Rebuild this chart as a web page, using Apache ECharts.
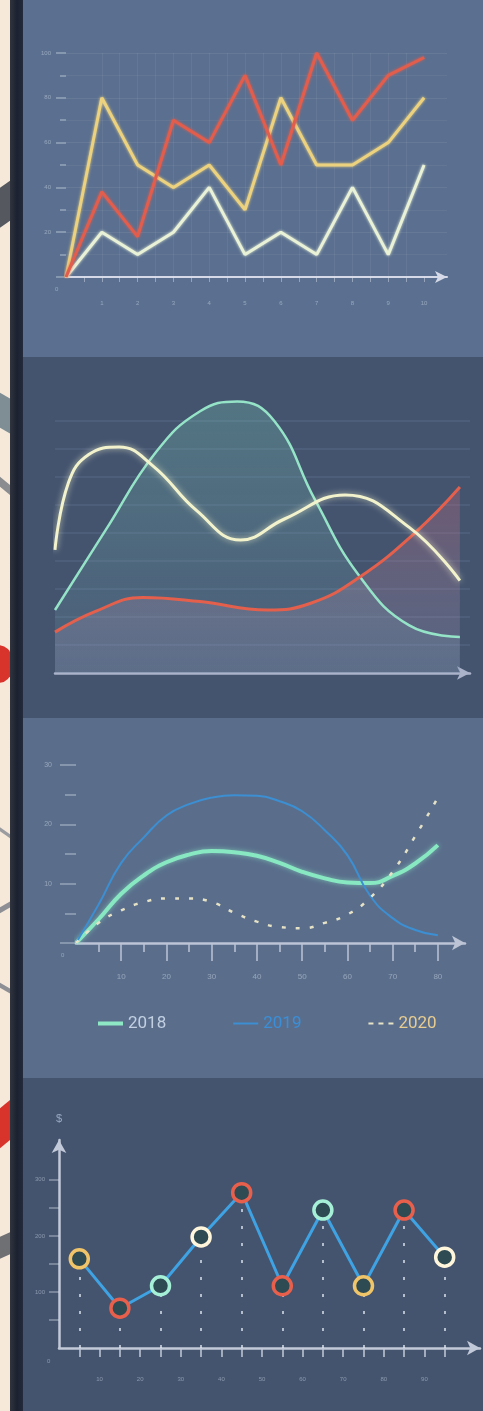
<!DOCTYPE html>
<html>
<head>
<meta charset="utf-8">
<script src="https://cdn.jsdelivr.net/npm/echarts@6/dist/echarts.min.js"></script>
<style>
body{margin:0;width:483px;height:1411px;overflow:hidden;background:#485a78;position:relative}
#strip{position:absolute;left:0;top:0;width:10px;height:1411px;background:#f6e9da;overflow:hidden}
#strip div{position:absolute;left:-4px;width:16px}
#bar{position:absolute;left:10px;top:0;width:13px;height:1411px;background:linear-gradient(90deg,#30343e,#1b2130 55%,#232b3c)}
.panel{position:absolute;left:23px;width:460px}
</style>
</head>
<body>
<div id="strip">
  <div style="top:185px;height:40px;background:#55585e;transform:skewY(-35deg)"></div>
  <div style="top:395px;height:35px;background:#7e8e94;transform:skewY(30deg)"></div>
  <div style="top:480px;height:10px;background:#8a8c90;transform:skewY(40deg)"></div>
  <div style="top:645px;height:38px;background:#d8342c;border-radius:0 14px 14px 0"></div>
  <div style="top:830px;height:4px;background:#9a9ca0;transform:skewY(35deg)"></div>
  <div style="top:905px;height:6px;background:#8d8f94;transform:skewY(-30deg)"></div>
  <div style="top:985px;height:5px;background:#8d8f94;transform:skewY(30deg)"></div>
  <div style="top:1105px;height:40px;background:#d8342c;transform:skewY(-40deg)"></div>
  <div style="top:1235px;height:22px;background:#6e7074;transform:skewY(-25deg)"></div>
</div>
<div id="bar"></div>
<div id="p1" class="panel" style="top:0;height:357px;background:#5b7090"></div>
<div id="p2" class="panel" style="top:357px;height:361px;background:#44546f"></div>
<div id="p3" class="panel" style="top:718px;height:360px;background:#5a6e8c"></div>
<div id="p4" class="panel" style="top:1078px;height:333px;background:#44546f"></div>
<script>
// panel 1 - zigzag lines
var p1_x = [0, 1, 2, 3, 4, 5, 6, 7, 8, 9, 10];
var p1_red = [0, 38, 18, 70, 60, 90, 50, 100, 70, 90, 98];
var p1_yellow = [0, 80, 50, 40, 50, 30, 80, 50, 50, 60, 80];
var p1_white = [0, 20, 10, 20, 40, 10, 20, 10, 40, 10, 50];
var p1_xlabels = [1, 2, 3, 4, 5, 6, 7, 8, 9, 10];
var p1_xticks = [0.5, 1, 1.5, 2, 2.5, 3, 3.5, 4, 4.5, 5, 5.5, 6, 6.5, 7, 7.5, 8, 8.5, 9, 9.5, 10];

// panel 2 - smooth areas (x positions differ per curve)
var p2_green_x = [0, 1.5, 3, 4.3, 5.4, 6.5, 7.7, 9, 10.5, 12];
var p2_green = [22.5, 51, 79, 93.5, 97, 90, 62, 35, 17, 12.9];
var p2_cream_x = [0, 0.4, 1.0, 1.9, 2.9, 4.2, 5.5, 6.8, 8.6, 10.5, 12];
var p2_cream = [44, 68, 78, 80.7, 74, 58, 47.5, 55, 63.6, 52, 33];
var p2_red_x = [0, 1.2, 2.6, 4.3, 6.3, 7.6, 9, 10.7, 12];
var p2_red = [14.6, 22, 27, 25.5, 22.5, 25, 34, 50.4, 66.4];

// panel 3 - 2018 / 2019 / 2020
var p3_x = [0, 5, 10, 15, 20, 25, 30, 35, 40, 45, 50, 55, 60, 65, 70, 75, 80];
var p3_2018 = [0, 4, 8.3, 11.4, 13.6, 14.9, 15.5, 15.3, 14.7, 13.5, 12, 10.9, 10.2, 10.1, 11.3, 13.4, 16.5];
var p3_2019 = [0, 6.5, 13.5, 17.8, 21.5, 23.4, 24.5, 24.9, 24.8, 23.9, 22.2, 19, 14.8, 8, 4.2, 2.2, 1.3];
var p3_2020 = [0, 3.4, 5.5, 6.9, 7.5, 7.5, 6.9, 5.1, 3.6, 2.7, 2.5, 3.4, 4.8, 7.6, 12, 18, 24.5];
var p3_years = ['2018', '2019', '2020'];
var p3_xlabels = [10, 20, 30, 40, 50, 60, 70, 80];
var p3_minor = [5, 15, 25, 35, 45, 55, 65, 75];

// panel 4 - dollar points
var p4_x = [5, 15, 25, 35, 45, 55, 65, 75, 85, 95];
var p4_val = [159, 71, 111, 198, 277, 111, 246, 111, 246, 162];
var p4_xlabels = [10, 20, 30, 40, 50, 60, 70, 80, 90];
var p4_xticks = [5, 10, 15, 20, 25, 30, 35, 40, 45, 50, 55, 60, 65, 70, 75, 80, 85, 90, 95];
var p4_yticks = [50, 100, 150, 200, 250, 300];
var p4_ylabels = [100, 200, 300];

var faint = 'rgba(220,228,240,0.45)';

function pairs(xs, ys) {
    var out = [];
    for (var i = 0; i < xs.length; i++) out.push([xs[i], ys[i]]);
    return out;
}

function zeroText(x, y) {
    return {type: 'text', left: x, top: y, style: {text: '0', fill: faint, font: '6px sans-serif'}};
}

// ---------- panel 1
var c1 = echarts.init(document.getElementById('p1'));
var line1 = function (name, data, color) {
    return {
        name: name, type: 'line', data: data, symbol: 'none',
        lineStyle: {color: color, width: 3, shadowColor: color, shadowBlur: 3}
    };
};
c1.setOption({
    animation: false,
    grid: {left: 43, right: 36, top: 53, bottom: 80},
    graphic: [zeroText(32, 286)],
    xAxis: {
        type: 'value', min: 0, max: 10.64, interval: 0.5,
        axisLine: {symbol: ['none', 'arrow'], symbolSize: [9, 12], lineStyle: {color: '#d6dae8', width: 2}},
        axisTick: {customValues: p1_xticks, length: 5, lineStyle: {color: faint}},
        axisLabel: {customValues: p1_xlabels, color: faint, fontSize: 6, margin: 23},
        splitLine: {show: true, showMinLine: false, showMaxLine: false, lineStyle: {color: 'rgba(255,255,255,0.06)'}}
    },
    yAxis: {
        type: 'value', min: 0, max: 100, interval: 20,
        axisLine: {show: false},
        axisTick: {length: 10, lineStyle: {color: faint, width: 1.5}},
        minorTick: {show: true, splitNumber: 2, length: 6, lineStyle: {color: faint, width: 1.5}},
        axisLabel: {color: faint, fontSize: 6, margin: 15, formatter: function (v) { return v === 0 ? '' : v; }},
        splitLine: {lineStyle: {color: 'rgba(255,255,255,0.07)'}},
        minorSplitLine: {show: true, lineStyle: {color: 'rgba(255,255,255,0.05)'}}
    },
    series: [
        line1('white', pairs(p1_x, p1_white), '#e9f1d6'),
        line1('yellow', pairs(p1_x, p1_yellow), '#ecd27e'),
        line1('red', pairs(p1_x, p1_red), '#e35d4c')
    ]
});

// ---------- panel 2
var c2 = echarts.init(document.getElementById('p2'));
c2.setOption({
    animation: false,
    grid: {left: 32, right: 13, top: 36, bottom: 45},
    xAxis: {
        type: 'value', min: 0, max: 12.3,
        axisLine: {symbol: ['none', 'arrow'], symbolSize: [10, 13], lineStyle: {color: '#aab3ca', width: 2.5}},
        axisTick: {show: false}, axisLabel: {show: false}, splitLine: {show: false}
    },
    yAxis: {
        type: 'value', min: 0, max: 100, interval: 10,
        axisLine: {show: false}, axisTick: {show: false}, axisLabel: {show: false},
        splitLine: {show: true, showMinLine: false, showMaxLine: false, lineStyle: {color: 'rgba(130,150,185,0.22)', width: 1.5}}
    },
    series: [
        {
            type: 'line', smooth: 0.45, symbol: 'none', data: pairs(p2_green_x, p2_green),
            lineStyle: {color: '#95e4c8', width: 2.5},
            areaStyle: {color: new echarts.graphic.LinearGradient(0, 0, 0, 1, [
                {offset: 0, color: 'rgba(120,200,180,0.42)'},
                {offset: 1, color: 'rgba(110,150,170,0.25)'}
            ])}
        },
        {
            type: 'line', smooth: 0.45, symbol: 'none', data: pairs(p2_red_x, p2_red),
            lineStyle: {color: '#e4604c', width: 3},
            areaStyle: {color: new echarts.graphic.LinearGradient(0, 0, 0, 1, [
                {offset: 0, color: 'rgba(190,100,120,0.5)'},
                {offset: 1, color: 'rgba(160,165,200,0.3)'}
            ])}
        },
        {
            type: 'line', smooth: 0.45, symbol: 'none', data: pairs(p2_cream_x, p2_cream),
            lineStyle: {color: '#f2f3cc', width: 3, shadowColor: 'rgba(255,255,210,0.7)', shadowBlur: 6}
        }
    ]
});

// ---------- panel 3
var c3 = echarts.init(document.getElementById('p3'));
c3.setOption({
    animation: false,
    grid: {left: 53, right: 18, top: 47, bottom: 135},
    graphic: [zeroText(38, 234)],
    legend: {
        left: 70, top: 292, itemGap: 67, itemWidth: 25, itemHeight: 12,
        textStyle: {fontFamily: 'Roboto, sans-serif', fontSize: 17, padding: [0, 0, 0, 0]},
        data: [
            {name: '2018', icon: 'path://M0,0M25,12M0,4h25v4h-25z',
                itemStyle: {color: '#8ee8c6'}, textStyle: {color: '#c2d0e2'}},
            {name: '2019', icon: 'path://M0,0M25,12M0,5h25v2h-25z',
                itemStyle: {color: '#3c8fd2'}, textStyle: {color: '#3a8fd8'}},
            {name: '2020', icon: 'path://M0,0M25,12M0,5h5v2h-5zM10,5h5v2h-5zM20,5h5v2h-5z',
                itemStyle: {color: '#e6e2c6'}, textStyle: {color: '#e8cc90'}}
        ]
    },
    xAxis: [{
        type: 'value', min: 0, max: 86, interval: 5,
        axisLine: {symbol: ['none', 'arrow'], symbolSize: [11, 13], lineStyle: {color: '#bcc4d6', width: 2.5}},
        axisTick: {customValues: p3_xlabels, length: 18, lineStyle: {color: '#bcc4d6', width: 1.5}},
        axisLabel: {customValues: p3_xlabels, color: faint, fontSize: 8, margin: 30},
        splitLine: {show: false}
    }, {
        type: 'value', min: 0, max: 86, position: 'bottom',
        axisLine: {show: false},
        axisTick: {customValues: p3_minor, length: 9, lineStyle: {color: '#bcc4d6', width: 1.5}},
        axisLabel: {show: false}, splitLine: {show: false}
    }],
    yAxis: {
        type: 'value', min: 0, max: 30, interval: 10,
        axisLine: {show: false},
        axisTick: {length: 16, lineStyle: {color: faint, width: 1.5}},
        minorTick: {show: true, splitNumber: 2, length: 11, lineStyle: {color: faint, width: 1.5}},
        axisLabel: {color: faint, fontSize: 7, margin: 24, formatter: function (v) { return v === 0 ? '' : v; }},
        splitLine: {show: false}
    },
    series: [
        {
            name: p3_years[0], type: 'line', smooth: true, symbol: 'none', data: pairs(p3_x, p3_2018),
            lineStyle: {color: '#88e8c2', width: 4, shadowColor: 'rgba(140,240,200,0.6)', shadowBlur: 5}
        },
        {
            name: p3_years[1], type: 'line', smooth: true, symbol: 'none', data: pairs(p3_x, p3_2019),
            lineStyle: {color: '#3c8fd2', width: 2}
        },
        {
            name: p3_years[2], type: 'line', smooth: true, symbol: 'none', data: pairs(p3_x, p3_2020),
            lineStyle: {color: '#e6e2c6', width: 2.5, type: [4, 10]}
        }
    ]
});

// ---------- panel 4
var ringColors = ['#f0c468', '#e8604c', '#a6f0d8', '#fff6dc', '#e8604c', '#e8604c', '#a6f0d8', '#f0c468', '#e8604c', '#fff6dc'];
var p4_points = [];
var p4_drops = [];
for (var i = 0; i < p4_x.length; i++) {
    p4_points.push({value: [p4_x[i], p4_val[i]], itemStyle: {borderColor: ringColors[i]}});
    p4_drops.push([{coord: [p4_x[i], 0]}, {coord: [p4_x[i], p4_val[i]]}]);
}
var c4 = echarts.init(document.getElementById('p4'));
c4.setOption({
    animation: false,
    grid: {left: 36, right: 3, top: 62, bottom: 63},
    graphic: [zeroText(24, 280)],
    xAxis: {
        type: 'value', min: 0, max: 103.7, interval: 5,
        axisLine: {symbol: ['none', 'arrow'], symbolSize: [11, 13], lineStyle: {color: '#c2c9d8', width: 2.5}},
        axisTick: {customValues: p4_xticks, length: 9, lineStyle: {color: '#c2c9d8', width: 1.5}},
        axisLabel: {customValues: p4_xlabels, color: faint, fontSize: 6, margin: 28},
        splitLine: {show: false}
    },
    yAxis: {
        type: 'value', min: 0, max: 371, interval: 50,
        name: '$', nameGap: 16, nameTextStyle: {color: '#9aa8c2', fontSize: 11},
        axisLine: {symbol: ['none', 'arrow'], symbolSize: [11, 13], lineStyle: {color: '#c2c9d8', width: 2.5}},
        axisTick: {customValues: p4_yticks, length: 10, lineStyle: {color: faint, width: 1.5}},
        axisLabel: {customValues: p4_ylabels, color: faint, fontSize: 6, margin: 14},
        splitLine: {show: false}
    },
    series: [{
        type: 'line', data: p4_points, z: 3,
        symbol: 'circle', symbolSize: 18,
        lineStyle: {color: '#3fa2e2', width: 3},
        itemStyle: {color: '#2e4a52', borderWidth: 3.5},
        markLine: {
            silent: true, symbol: 'none', z: 1, label: {show: false},
            lineStyle: {color: 'rgba(230,235,245,0.7)', width: 2, type: [3, 14]},
            data: p4_drops
        }
    }]
});
</script>
</body>
</html>
